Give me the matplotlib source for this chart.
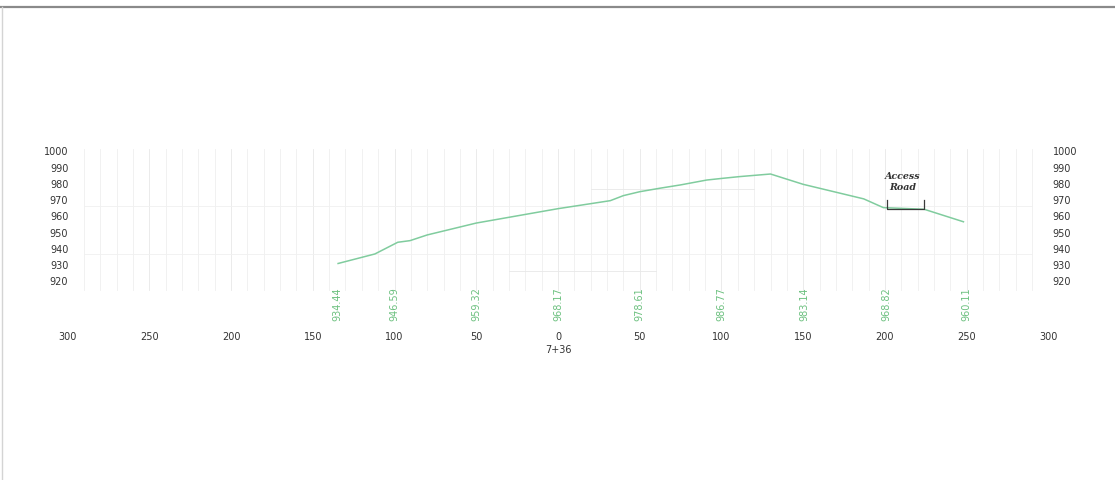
import matplotlib.pyplot as plt

# cross-section data (offset from centerline, elevation)
offsets = [-134.5, -112, -98, -90.5, -80, -50, 0, 32, 40, 50, 62, 75, 91, 100,
           111, 130, 150, 187, 199, 224, 248]
elevs = [934.44, 940.3, 947.5, 948.5, 952.0, 959.32, 968.17, 973.1, 976.2, 978.61,
         980.7, 982.8, 985.8, 986.77, 987.9, 989.5, 983.14, 974.2, 968.82, 967.8, 960.11]

# station elevation labels
label_offsets = [-135, -100, -50, 0, 50, 100, 151, 201, 250]
label_texts = ["934.44", "946.59", "959.32", "968.17", "978.61", "986.77",
               "983.14", "968.82", "960.11"]

x_ticks = [-300, -250, -200, -150, -100, -50, 0, 50, 100, 150, 200, 250, 300]
y_ticks = [1000, 990, 980, 970, 960, 950, 940, 930, 920]
station = "7+36"

green_line = "#80cc9e"
green_text = "#6cc07f"
dark = "#333333"
narrow = ["Liberation Sans Narrow", "DejaVu Sans"]

fig = plt.figure(figsize=(11.15, 4.81), dpi=100)
ax = fig.add_axes([0, 0, 1, 1])
ax.set_xlim(-341.3, 340.7)
ax.set_ylim(801.2, 1097.2)
ax.axis("off")

# faint grid
for gx in range(-290, 300, 10):
    c = "#e8e8e8" if gx % 50 == 0 else "#efefef"
    ax.plot([gx, gx], [918, 1005], color=c, lw=0.6, zorder=1)
for gy in [940, 970]:
    ax.plot([-290, 290], [gy, gy], color="#f0f0f0", lw=0.6, zorder=1)
ax.plot([20, 120], [980, 980], color="#e8e8e8", lw=0.6, zorder=1)
ax.plot([-30, 60], [930, 930], color="#e8e8e8", lw=0.6, zorder=1)

# ground profile
ax.plot(offsets, elevs, color=green_line, lw=1.1, zorder=3)

# access road bracket
ax.plot([201, 201, 224, 224], [973.5, 968.0, 968.0, 973.5], color="#3a3a3a", lw=0.9, zorder=4)
ax.text(211, 988.5, "Access", ha="center", va="center", fontsize=6.8, weight="bold",
        family="DejaVu Serif", style="italic", color="#333333")
ax.text(211, 982.0, "Road", ha="center", va="center", fontsize=6.8, weight="bold",
        family="DejaVu Serif", style="italic", color="#333333")

# elevation axis labels, both sides
for v in y_ticks:
    ax.text(-299.5, v + 0.4, str(v), ha="right", va="bottom", fontsize=7,
            family=narrow, color=dark)
    ax.text(302.5, v + 0.4, str(v), ha="left", va="bottom", fontsize=7,
            family=narrow, color=dark)

# offset labels
for xv in x_ticks:
    ax.text(xv, 889.8, str(abs(xv)), ha="center", va="center", fontsize=7,
            family=narrow, color=dark)
ax.text(0, 881.8, station, ha="center", va="center", fontsize=7,
        family=narrow, color=dark)

# station elevations, rotated
for xo, t in zip(label_offsets, label_texts):
    ax.text(xo, 910.2, t, ha="center", va="center", rotation=90, fontsize=7,
            family=narrow, color=green_text)

# sheet border lines
ax.plot([-341.3, 340.7], [1092.3, 1092.3], color="#8a8a8a", lw=1.6, zorder=5)
ax.plot([-340.2, -340.2], [801.2, 1092.3], color="#d4d4d4", lw=1.0, zorder=5)

fig.savefig("out.png", dpi=100, facecolor="white")
